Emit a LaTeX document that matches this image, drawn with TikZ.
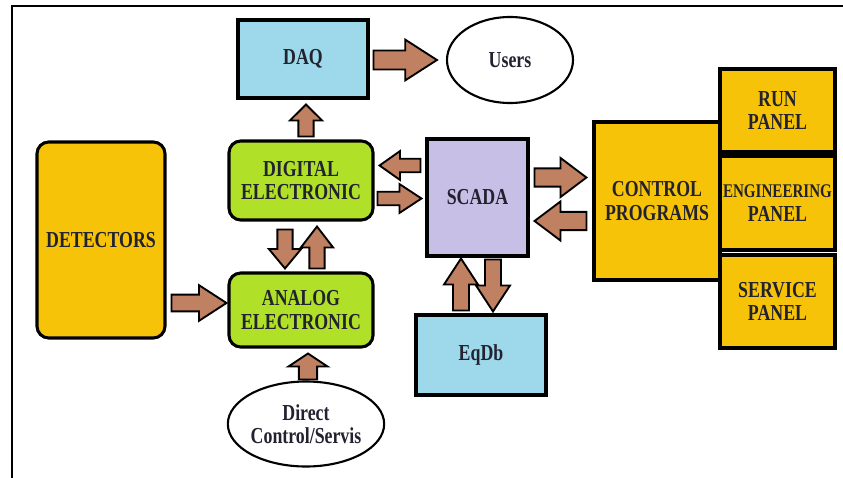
\documentclass[tikz,border=0pt]{standalone}
\usepackage{fontspec}
\setmainfont{Liberation Serif}[FakeStretch=0.78]
\usetikzlibrary{calc,shapes.geometric}

\definecolor{boxgold}{HTML}{F7C308}
\definecolor{boxlime}{HTML}{B0E028}
\definecolor{boxblue}{HTML}{9DD9EA}
\definecolor{boxlilac}{HTML}{C8BFE6}
\definecolor{arrowbrown}{HTML}{C08062}
\definecolor{textdark}{HTML}{222230}

\def\px{0.03cm}

\tikzset{
  label text/.style={font=\bfseries\fontsize{19.5}{20}\selectfont, text=textdark, align=center, inner sep=0pt},
  plainbox/.style={label text, draw=black, line width=2.6pt},
  roundbox/.style={plainbox, rounded corners=10pt},
  oval/.style={label text, ellipse, draw=black, line width=1.8pt, fill=white},
  fat arrow/.style={draw=black, line width=1.6pt, fill=arrowbrown, line join=miter}
}

% block arrow from #2 to #3, #1 = width factor, head takes half the length
\newcommand{\fatarrow}[3][1]{%
  \pgfmathsetlengthmacro\fas{#1*6.8pt}%
  \pgfmathsetlengthmacro\faw{#1*14.5pt}%
  \coordinate (fa-a) at (#2);
  \coordinate (fa-b) at (#3);
  \coordinate (fa-h) at ($(fa-a)!0.5!(fa-b)$);
  \draw[fat arrow] ($(fa-a)!\fas!90:(fa-b)$) -- ($(fa-h)!\fas!-90:(fa-a)$)
    -- ($(fa-h)!\faw!-90:(fa-a)$) -- (fa-b) -- ($(fa-h)!\faw!90:(fa-a)$)
    -- ($(fa-h)!\fas!90:(fa-a)$) -- ($(fa-a)!\fas!-90:(fa-b)$) -- cycle;}

\begin{document}
\begin{tikzpicture}[x=0.03cm, y=-0.03cm]
  \useasboundingbox (0,0) rectangle (843,478);
  % frame
  \draw[line width=1.8pt] (843,6) -- (12,6) -- (12,478);

  % blocks
  \node[plainbox, fill=boxblue, minimum width=130*\px, minimum height=78*\px] (daq) at (303,59) {DAQ};
  \node[oval, minimum width=126*\px, minimum height=86*\px] (users) at (510,60) {Users};
  \node[roundbox, fill=boxlime, minimum width=144*\px, minimum height=79*\px] (dig) at (301,180.5) {DIGITAL\\ELECTRONIC};
  \node[roundbox, fill=boxlime, minimum width=144*\px, minimum height=74*\px] (ana) at (301,310) {ANALOG\\ELECTRONIC};
  \node[roundbox, fill=boxgold, minimum width=128*\px, minimum height=196*\px] (det) at (101,240) {DETECTORS};
  \node[plainbox, fill=boxlilac, minimum width=101*\px, minimum height=117*\px] (scada) at (477.5,197.5) {SCADA};
  \node[plainbox, fill=boxblue, minimum width=130*\px, minimum height=80*\px] (eqdb) at (481,355) {EqDb};
  \node[oval, minimum width=143*\px, minimum height=85*\px] (direct) at (306,424) {Direct\\Control/Servis};
  \node[plainbox, fill=boxgold, minimum width=126*\px, minimum height=158*\px] (ctrl) at (657,201) {CONTROL\\PROGRAMS};

  % panels
  \node[plainbox, fill=boxgold, minimum width=115*\px, minimum height=83*\px] (run) at (777.5,110.5) {RUN\\PANEL};
  \node[plainbox, fill=boxgold, minimum width=115*\px, minimum height=94*\px] (eng) at (777.5,203) {\fontsize{16.5}{20}\selectfont ENGINEERING\\PANEL};
  \node[plainbox, fill=boxgold, minimum width=115*\px, minimum height=93*\px] (serv) at (777.5,301.5) {SERVICE\\PANEL};

  % arrows
  \fatarrow[1.2]{$(daq.east)+(4,1)$}{$(users.west)+(-9,0)$}
  \fatarrow[0.95]{$(dig.north)+(5,-3)$}{$(daq.south)+(3,5)$}
  \fatarrow[0.85]{$(scada.west)+(-5,-32)$}{$(dig.east)+(5,-15)$}
  \fatarrow[0.85]{$(dig.east)+(3,18)$}{$(scada.west)+(-4,1)$}
  \fatarrow[0.95]{$(dig.south)+(-16,8)$}{$(ana.north)+(-16,-3)$}
  \fatarrow[0.95]{$(ana.north)+(16,-3)$}{$(dig.south)+(16,5)$}
  \fatarrow[1.05]{$(det.east)+(5,63)$}{$(ana.west)+(-1,-7)$}
  \fatarrow[1.15]{$(direct.north)+(2,-1)$}{$(ana.south)+(7,5)$}
  \fatarrow[1.0]{$(eqdb.north)+(-20,-3)$}{$(scada.south)+(-16.5,1)$}
  \fatarrow[1.0]{$(scada.south)+(15.5,2)$}{$(eqdb.north)+(12,-2)$}
  \fatarrow[1.15]{$(scada.east)+(5,-20)$}{$(ctrl.west)+(-6,-23.5)$}
  \fatarrow[1.15]{$(ctrl.west)+(-6,20)$}{$(scada.east)+(5,23.5)$}
\end{tikzpicture}
\end{document}
